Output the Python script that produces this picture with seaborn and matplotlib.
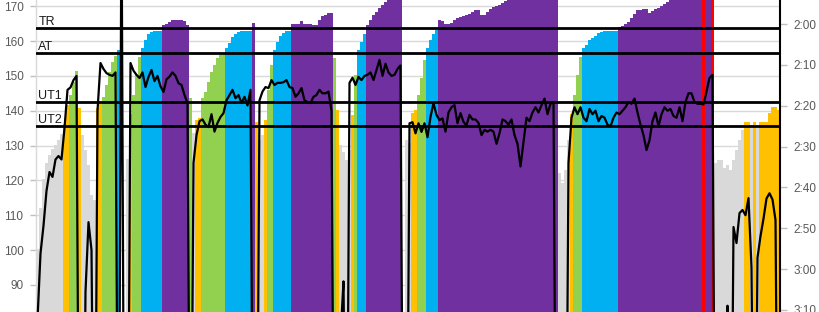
import numpy as np
import matplotlib
matplotlib.use("Agg")
import matplotlib.pyplot as plt
import seaborn as sns
from matplotlib.ticker import FuncFormatter

# ---- data (one sample per stroke block) ----
# split (sec / 500 m), drawn as zone-coloured columns on the right (reversed) axis
split_s = [
    175, 165, 158, 154, 152, 150.5, 149.5, 148.5, 147, 144.5,
    139.8, 137.3, 134.2, 131.5, 140.5, 147.1, 150.8, 154.5, 161.8, 163,
    140.5, 139.5, 137.8, 134.9, 131.7, 129.3, 127.8, 126.3, 200, 200,
    153, 142, 137.3, 132.5, 128.1, 125.8, 123.9, 122.4, 121.9, 121.7,
    121.7, 121.6, 120.2, 120.0, 119.5, 119.0, 119.0, 119.0, 119.0, 119.2,
    120.2, 138, 146.6, 143.5, 143, 138.1, 136.6, 134.2, 131.7, 130,
    128.3, 127.6, 127.1, 125.8, 124.6, 123.2, 122.4, 121.9, 121.7, 121.7,
    121.7, 121.7, 119.7, 144, 148.4, 147.1, 143.5, 136.1, 130, 126.3,
    124.4, 122.9, 122.2, 121.7, 121.7, 120, 120, 120, 119.2, 120,
    120, 120, 120.2, 120.2, 119, 118, 117.8, 117.3, 117.2, 128.3,
    141, 149.6, 151.3, 153.3, 150.8, 142.2, 132.5, 126.3, 124.4, 122.4,
    120.2, 119, 117.8, 117, 116.1, 115.3, 114.6, 112, 112, 112,
    112, 112, 200, 148.4, 149, 141.8, 141, 137.3, 133.2, 128.8,
    125.8, 123.9, 122.4, 121.4, 119, 119.2, 120, 120, 119.7, 119,
    118.5, 118.3, 118, 117.8, 117.5, 117, 116.5, 116.5, 117.8, 117.8,
    117, 116.3, 115.8, 115.6, 115.3, 114.8, 114.3, 112, 112, 112,
    112, 112, 112, 112, 112, 112, 112, 112, 112, 112,
    112, 112, 112, 112, 156.4, 158.9, 155.7, 148.4, 142, 137.3,
    132.5, 128.1, 125.8, 125.1, 123.9, 123.4, 122.9, 122.2, 121.9, 121.7,
    121.7, 121.7, 121.7, 121.7, 120.8, 120.5, 120, 119.5, 118.5, 117.5,
    116.5, 116.5, 116.3, 116.3, 117.3, 116.8, 116.3, 116.1, 115.6, 115.1,
    114.6, 112, 112, 112, 112, 112, 112, 112, 112, 112,
    112, 112, 105, 112, 112, 105, 154, 153.3, 153.3, 155.2,
    154.5, 155.7, 153.3, 150.8, 148.4, 145.9, 144, 144, 145.5, 144,
    145.4, 144, 144, 144, 141.8, 140.3, 140.3, 141,
]

# heart rate (bpm), black line on the left axis (0 = strap dropout)
heart_rate = [
    80, 99, 107, 117, 122.4, 121, 126, 127, 126, 135,
    146, 146.7, 148.8, 150, 0, 0, 88, 108, 100, 0,
    140, 153.7, 152, 150.8, 150.3, 150, 151, 0, 200, 0,
    0, 153.7, 151.5, 150.3, 149.4, 151, 146.8, 149.7, 151.7, 148.5,
    150, 147, 145.4, 149, 149.8, 151, 150, 147.9, 147.4, 144.5,
    142.2, 0, 125, 133, 137, 137.5, 136, 135.3, 139, 134,
    136.5, 138.2, 139.3, 143, 144.5, 146, 143.6, 144.5, 142.2, 144,
    141.5, 146, 0, 0, 143, 145.5, 146.8, 146.5, 148.8, 147.4,
    148, 148, 148.2, 148.8, 146.8, 146.5, 144, 145, 146.5, 143,
    142.5, 142.2, 144, 144.5, 146, 145, 145, 145.5, 140, 0,
    0, 75, 91, 0, 148, 149.5, 147.4, 149.7, 148.8, 150,
    150.3, 151, 148.8, 151.7, 154.6, 150, 153.5, 151, 150, 150.3,
    152, 153, 0, 0, 136.4, 136.7, 133.5, 136.4, 133.9, 136.4,
    132.4, 138.2, 142.2, 138.8, 137.3, 137.8, 134, 139.5, 141, 141.6,
    136.4, 139.3, 136.8, 135.8, 138.8, 137.5, 137.5, 136.5, 133, 134.5,
    134, 134.5, 134, 130.5, 133.5, 137.5, 137, 136, 137.5, 133,
    130.5, 124, 131, 138, 137, 139.5, 141, 139.5, 141.6, 143.5,
    139, 142, 142.5, 0, 0, 0, 0, 125, 138, 141,
    139, 141, 138, 137, 140.5, 139, 140, 137, 138.5, 138,
    136, 135.5, 138, 139.5, 139, 140, 141, 142.5, 142, 143.5,
    139.5, 136, 133, 128.7, 131.5, 137, 139.5, 135.5, 139, 141,
    140, 140.5, 138.5, 138, 141, 137, 142.5, 145, 145, 142.5,
    142, 142, 141.8, 145.5, 149.4, 150.3, 0, 0, 0, 0,
    84, 0, 106.6, 102, 110.6, 111.5, 110, 114.9, 95, 0,
    97.8, 104, 109, 114.8, 116.3, 114.5, 108.6, 0,
]

zone_names = ["TR", "AT", "UT1", "UT2"]
zone_split_s = [121, 127, 139, 145]
hr_ticks = [90, 100, 110, 120, 130, 140, 150, 160, 170]
split_ticks = [120, 130, 140, 150, 160, 170, 180, 190]

# ---- style ----
sns.set_theme(style="white")
plt.rcParams['font.family'] = ['Liberation Sans', 'DejaVu Sans']

C_GREY, C_ORANGE, C_GREEN = "#D9D9D9", "#FFC000", "#92D050"
C_BLUE, C_PURPLE, C_RED = "#00B0F0", "#7030A0", "#FF0000"


def zone_color(v):
    if v < 110:
        return C_RED
    if v < zone_split_s[0]:
        return C_PURPLE
    if v < zone_split_s[1]:
        return C_BLUE
    if v < zone_split_s[2]:
        return C_GREEN
    if v < zone_split_s[3]:
        return C_ORANGE
    return C_GREY


fig = plt.figure(figsize=(8.2, 3.12), dpi=100)
ax_hr = fig.add_axes([36 / 820, 0, 744 / 820, 1])
ax_sp = ax_hr.twinx()
ax_ln = ax_hr.twinx()

n = len(split_s)
idx = np.arange(n)
for a in (ax_hr, ax_sp, ax_ln):
    a.set_xlim(-0.5, n - 0.5)
    a.set_xticks([])
ax_hr.set_ylim(82.2, 171.8)
ax_ln.set_ylim(82.2, 171.8)
ax_sp.set_ylim(190.5, 114.1)

# grid + left axis (heart rate)
ax_hr.set_yticks(hr_ticks)
ax_hr.yaxis.grid(True, color="#D9D9D9", linewidth=1.0)
ax_hr.xaxis.grid(False)
ax_hr.tick_params(axis="y", left=True, length=4, width=1, color="#BFBFBF",
                  labelcolor="#595959", labelsize=8.5, pad=5)
for s in ("top", "bottom", "right"):
    ax_hr.spines[s].set_visible(False)
ax_hr.spines["left"].set_color("#D9D9D9")
ax_hr.spines["left"].set_linewidth(1.0)

# split columns on the reversed right axis, growing up from the bottom
floor = 260
colors = [zone_color(v) for v in split_s]
ax_sp.bar(idx, [v - floor for v in split_s], bottom=floor, width=1.15,
          color=colors, linewidth=0, antialiased=False, zorder=1)

for name, v in zip(zone_names, zone_split_s):
    ax_sp.axhline(v, color="black", linewidth=2.0, zorder=3)
    ax_sp.text(0.3, v, name, ha="left", va="bottom", fontsize=9,
               color="#1A1A1A", zorder=4)

ax_sp.set_yticks(split_ticks)
ax_sp.yaxis.set_major_formatter(
    FuncFormatter(lambda v, p: f"{int(v) // 60}:{int(v) % 60:02d}"))
ax_sp.tick_params(axis="y", right=True, left=False, labelright=True,
                  labelleft=False, length=5, width=1, color="#BFBFBF",
                  labelcolor="#595959", labelsize=8.5, pad=5)
for s in ("top", "bottom", "left"):
    ax_sp.spines[s].set_visible(False)
ax_sp.spines["right"].set_color("black")
ax_sp.spines["right"].set_linewidth(1.5)

# heart-rate line on top
sns.lineplot(x=idx, y=heart_rate, ax=ax_ln, color="black", linewidth=1.6,
             estimator=None, sort=False)
ax_ln.set_yticks([])
ax_ln.set_xlabel("")
ax_ln.set_ylabel("")
for s in ax_ln.spines.values():
    s.set_visible(False)
ax_hr.set_xlabel("")
ax_sp.set_xlabel("")

fig.savefig("out.png", dpi=100, facecolor="white")
